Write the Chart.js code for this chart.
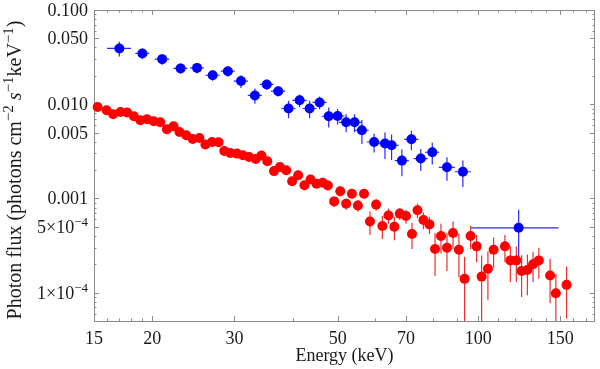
<!DOCTYPE html>
<html>
<head>
<meta charset="utf-8">
<script src="https://cdn.jsdelivr.net/npm/chart.js@4"></script>
<style>
  body { margin: 0; background: #fff; }
</style>
</head>
<body>
<canvas id="myChart" width="600" height="369"></canvas>
<script>
// Blue spectrum (energy keV, flux, flux error, energy bin edges)
const blueEnergy = [17.0, 19.05, 21.0, 23.0, 24.95, 26.95, 29.05, 31.0, 33.2, 35.2, 37.25, 39.2, 41.4, 43.5, 45.7, 47.8, 49.95, 52.1, 54.3, 56.3, 59.8, 63.1, 65.2, 68.6, 71.9, 75.3, 79.7, 85.7, 92.7, 122.1];
const blueFlux = [0.0391, 0.0346, 0.0301, 0.0240, 0.0243, 0.0203, 0.0224, 0.0176, 0.0124, 0.0162, 0.01375, 0.0090, 0.0110, 0.0090, 0.01045, 0.00745, 0.0075, 0.00643, 0.00643, 0.00529, 0.00397, 0.00382, 0.00366, 0.00252, 0.00424, 0.00265, 0.00309, 0.00214, 0.00192, 0.000488];
const blueErr = [0.007, 0.0045, 0.0039, 0.003, 0.003, 0.0026, 0.0028, 0.0027, 0.0023, 0.002, 0.0017, 0.0019, 0.0017, 0.0019, 0.0016, 0.0018, 0.0014, 0.0014, 0.0014, 0.0015, 0.0009, 0.0012, 0.0011, 0.0008, 0.001, 0.0007, 0.0008, 0.0006, 0.0006, 0.00027];
const blueBinLo = [16.0, 18.4, 20.25, 22.2, 24.1, 26.0, 28.05, 29.9, 32.05, 34.0, 35.95, 37.85, 39.95, 42.0, 44.1, 46.15, 48.2, 50.3, 52.4, 54.35, 57.7, 60.9, 62.9, 66.2, 69.4, 72.7, 76.9, 82.3, 89.0, 96.2];
const blueBinHi = [18.0, 19.7, 21.75, 23.8, 25.8, 27.9, 30.05, 32.1, 34.35, 36.4, 38.55, 40.55, 42.85, 45.0, 47.3, 49.45, 51.7, 53.9, 56.2, 58.25, 61.9, 65.3, 67.5, 71.0, 74.4, 77.9, 82.5, 89.1, 96.4, 148.6];

// Red spectrum (energy keV, flux, flux error)
const redEnergy = [15.27, 15.96, 16.49, 17.10, 17.67, 18.26, 18.86, 19.49, 20.14, 20.81, 21.50, 22.22, 22.88, 23.65, 24.42, 25.24, 26.00, 26.87, 27.75, 28.54, 29.39, 30.38, 31.28, 32.26, 33.35, 34.28, 35.30, 36.48, 37.57, 38.75, 39.9, 41.1, 42.4, 43.7, 45.0, 46.4, 47.6, 49.1, 50.6, 52.1, 53.6, 55.2, 56.9, 58.6, 60.4, 62.3, 64.2, 66.1, 67.9, 70.0, 72.1, 74.1, 76.3, 78.6, 80.8, 83.2, 85.7, 88.3, 90.9, 93.5, 96.3, 99.2, 101.7, 104.9, 107.9, 114.1, 117.2, 120.7, 123.9, 127.5, 131.1, 134.9, 142.6, 146.7, 154.7];
const redFlux = [0.00936, 0.00864, 0.00783, 0.00828, 0.00816, 0.00745, 0.00676, 0.00692, 0.00660, 0.00643, 0.00542, 0.00583, 0.00507, 0.00468, 0.00428, 0.00438, 0.00373, 0.00397, 0.00394, 0.00319, 0.00303, 0.00299, 0.00287, 0.00275, 0.00262, 0.00285, 0.00248, 0.00195, 0.00215, 0.00199, 0.00152, 0.00176, 0.00138, 0.00159, 0.00143, 0.00147, 0.00137, 0.00093, 0.00119, 0.00088, 0.00112, 0.00084, 0.00112, 0.00057, 0.00086, 0.00051, 0.00066, 0.00050, 0.00069, 0.00065, 0.00042, 0.00075, 0.00059, 0.00053, 0.00029, 0.00040, 0.00030, 0.00043, 0.000285, 0.00014, 0.00040, 0.00031, 0.000148, 0.000179, 0.000285, 0.00031, 0.00022, 0.00022, 0.00017, 0.000174, 0.0002, 0.00022, 0.000152, 0.0000984, 0.000121];
const redErr = [0.0003, 0.0003, 0.0003, 0.0003, 0.0003, 0.0003, 0.0003, 0.0003, 0.0003, 0.0003, 0.00025, 0.00025, 0.00025, 0.00025, 0.00025, 0.00025, 0.00025, 0.00025, 0.00025, 0.00025, 0.0002, 0.0002, 0.0002, 0.0002, 0.0002, 0.0002, 0.0002, 0.0002, 0.0002, 0.0002, 0.00015, 0.00015, 0.00015, 0.00015, 0.00015, 0.00015, 0.00015, 0.00012, 0.00014, 0.00012, 0.00012, 0.00012, 0.00012, 0.00016, 0.00012, 0.00014, 0.00012, 0.00014, 0.0001, 0.00011, 0.00013, 0.00013, 0.00012, 0.00011, 0.00014, 0.00014, 0.00013, 0.00014, 0.00014, 0.0001, 0.00011, 0.0001, 0.0001, 0.000095, 0.0001, 0.0001, 0.00009, 0.00009, 0.00008, 0.00008, 0.00007, 0.00008, 0.000075, 0.00006, 0.000068];

// Axis ticks
const xMajor = [15, 20, 30, 50, 70, 100, 150];
const xMinor = [16, 17, 18, 19, 40, 60, 80, 90, 110, 120, 130, 140, 160, 170];
const yMajor = [0.1, 0.05, 0.01, 0.005, 0.001, 0.0005, 0.0001];
const yLabels = ["0.100", "0.050", "0.010", "0.005", "0.001", "5\u00d710^\u22124", "1\u00d710^\u22124"];
const yMinor = [0.09, 0.08, 0.07, 0.06, 0.04, 0.03, 0.02, 0.009, 0.008, 0.007, 0.006, 0.004, 0.003, 0.002,
  0.0009, 0.0008, 0.0007, 0.0006, 0.0004, 0.0003, 0.0002, 0.00009, 0.00008, 0.00007, 0.00006];

const FONT = '"Liberation Serif", "Times New Roman", serif';
const FRAME = "#8a8a8a";

function drawLabel(ctx, text, xRight, yMid) {
  // text like "5×10^−4": base + superscript
  const parts = text.split("^");
  ctx.font = "18px " + FONT;
  const wb = ctx.measureText(parts[0]).width;
  let we = 0;
  if (parts[1]) { ctx.font = "13px " + FONT; we = ctx.measureText(parts[1]).width; }
  const x0 = xRight - wb - we;
  ctx.textAlign = "left";
  ctx.textBaseline = "alphabetic";
  ctx.font = "18px " + FONT;
  ctx.fillText(parts[0], x0, yMid + 6);
  if (parts[1]) {
    ctx.font = "13px " + FONT;
    ctx.fillText(parts[1], x0 + wb, yMid - 1);
  }
}

const frameAndBars = {
  id: "frameAndBars",
  beforeDatasetsDraw(chart) {
    const { ctx, chartArea: a, scales: { x, y } } = chart;
    ctx.save();
    // frame
    ctx.strokeStyle = FRAME;
    ctx.lineWidth = 1;
    ctx.strokeRect(Math.round(a.left) + 0.5, Math.round(a.top) + 0.5, Math.round(a.right - a.left) - 1, Math.round(a.bottom - a.top));
    // ticks
    const tick = (v, len, axis) => {
      if (axis === "x") {
        const px = Math.round(x.getPixelForValue(v)) + 0.5;
        ctx.moveTo(px, a.bottom); ctx.lineTo(px, a.bottom - len);
        ctx.moveTo(px, a.top); ctx.lineTo(px, a.top + len);
      } else {
        const py = Math.round(y.getPixelForValue(v)) + 0.5;
        ctx.moveTo(a.left, py); ctx.lineTo(a.left + len, py);
        ctx.moveTo(a.right, py); ctx.lineTo(a.right - len, py);
      }
    };
    ctx.beginPath();
    xMajor.forEach(v => tick(v, 5, "x"));
    xMinor.forEach(v => tick(v, 2.5, "x"));
    yMajor.forEach(v => tick(v, 5, "y"));
    yMinor.forEach(v => tick(v, 2.5, "y"));
    ctx.stroke();

    // error bars
    ctx.beginPath();
    ctx.rect(a.left, a.top, a.right - a.left, a.bottom - a.top);
    ctx.clip();
    chart.data.datasets.forEach(ds => {
      ctx.strokeStyle = ds.barColor;
      ctx.lineWidth = 1.2;
      ctx.beginPath();
      ds.data.forEach((p, i) => {
        const px = x.getPixelForValue(p.x);
        const py = y.getPixelForValue(p.y);
        const lo = p.y - ds.yErr[i];
        const hi = p.y + ds.yErr[i];
        const pLo = lo > 0 ? y.getPixelForValue(lo) : a.bottom + 5;
        ctx.moveTo(px, pLo);
        ctx.lineTo(px, y.getPixelForValue(hi));
        if (ds.binLo) {
          ctx.moveTo(x.getPixelForValue(ds.binLo[i]), py);
          ctx.lineTo(x.getPixelForValue(ds.binHi[i]), py);
        }
      });
      ctx.stroke();
    });
    ctx.restore();
  },
  afterDraw(chart) {
    const { ctx, chartArea: a, scales: { x, y } } = chart;
    ctx.save();
    ctx.fillStyle = "#1a1a1a";
    // x tick labels
    ctx.font = "18px " + FONT;
    ctx.textAlign = "center";
    ctx.textBaseline = "alphabetic";
    xMajor.forEach(v => ctx.fillText(String(v), x.getPixelForValue(v), 344));
    // y tick labels
    yMajor.forEach((v, i) => drawLabel(ctx, yLabels[i], a.left - 6, y.getPixelForValue(v)));
    // x title
    ctx.font = "18px " + FONT;
    ctx.textAlign = "center";
    ctx.fillText("Energy (keV)", (a.left + a.right) / 2, 361);
    // y title
    const parts = [
      ["Photon flux (photons cm", "n"], ["\u22122", "s"], [" ", "n"], ["s", "i"],
      ["\u22121", "s"], ["keV", "n"], ["\u22121", "s"], [")", "n"]
    ];
    const fontOf = t => t === "s" ? "15px " + FONT : (t === "i" ? "italic 20px " + FONT : "20px " + FONT);
    let total = 0;
    parts.forEach(p => { ctx.font = fontOf(p[1]); total += ctx.measureText(p[0]).width; });
    ctx.translate(21, 170);
    ctx.rotate(-Math.PI / 2);
    ctx.textAlign = "left";
    let cx = -total / 2;
    parts.forEach(p => {
      ctx.font = fontOf(p[1]);
      ctx.fillText(p[0], cx, p[1] === "s" ? -8 : 0);
      cx += ctx.measureText(p[0]).width;
    });
    ctx.restore();
  }
};

const data = {
  datasets: [
    {
      label: "Blue",
      data: blueEnergy.map((e, i) => ({ x: e, y: blueFlux[i] })),
      backgroundColor: "#0000ff",
      borderWidth: 0,
      pointRadius: 5,
      barColor: "#2a2aff",
      yErr: blueErr,
      binLo: blueBinLo,
      binHi: blueBinHi,
      clip: false
    },
    {
      label: "Red",
      data: redEnergy.map((e, i) => ({ x: e, y: redFlux[i] })),
      backgroundColor: "#ff0000",
      borderWidth: 0,
      pointRadius: 5,
      barColor: "#ee3030",
      yErr: redErr,
      clip: false
    }
  ]
};

const config = {
  type: "scatter",
  data: data,
  options: {
    responsive: false,
    devicePixelRatio: 1,
    animation: false,
    layout: { padding: { left: 94, right: 2, top: 10, bottom: 48 } },
    plugins: { legend: { display: false }, tooltip: { enabled: false } },
    scales: {
      x: { type: "logarithmic", min: 15, max: 178, display: false },
      y: { type: "logarithmic", min: 0.00005, max: 0.1, display: false }
    }
  },
  plugins: [frameAndBars]
};

const myChart = new Chart(document.getElementById("myChart"), config);
</script>
</body>
</html>
